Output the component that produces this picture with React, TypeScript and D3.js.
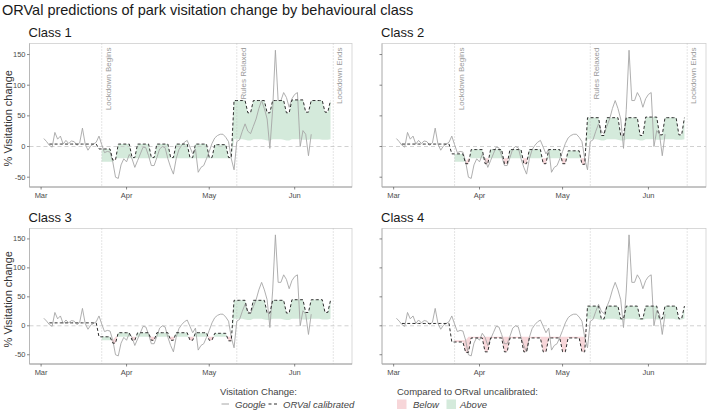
import React from 'react';
import * as d3 from 'd3';

// ---------- data ----------
const titleText = 'ORVal predictions of park visitation change by behavioural class';
const classNames = ['Class 1', 'Class 2', 'Class 3', 'Class 4'];
const monthTicks = ['2020-03-01', '2020-04-01', '2020-05-01', '2020-06-01'];
const monthLabels = ['Mar', 'Apr', 'May', 'Jun'];
const yTicks = [-50, 0, 50, 100, 150];
const eventDates = ['2020-03-23', '2020-05-11', '2020-06-15'];
const eventLabels = ['Lockdown Begins', 'Rules Relaxed', 'Lockdown Ends'];
const xDomainDates = ['2020-02-25T19:00:00Z', '2020-06-21T19:00:00Z'];
const yDomain = [-66, 168];

// Google mobility (daily, from 2 March)
const googleStart = '2020-03-02';
const googleValues = [
  13, 8, 2, -1, 23, 12, 17, 4, 10, 5, 9, 8, 2, 6, 30, 4, -6, 1, 4, 7, 17,
  3, -10, -8, -9, -25, -50, -52, -30, -20, -25, -13, -20, -34, -23, -12, -1,
  -2, -15, -31, -31, -18, -4, 0, -2, -20, -34, -45, -20, -5, 2, 7, 10, -1,
  -12, -4, -42, -34, -31, -20, -8, 5, 14, 18, 20, 20, 15, 8, -20, -38, 8,
  11, 25, 37, 25, 21, 33, 45, 62, 75, 62, 45, -3, 60, 157, 75, 75, 88, 80,
  64, 78, 85, 88, 0, 26, 20, -15, 20,
];

// ORVal calibrated (daily, from 4 March)
const calibratedStart = '2020-03-04';
const class1Calibrated = [
  4, 4, 4, 4, 4, 4, 4, 4, 4, 4, 4, 4, 4, 4, 4, 4, 4, 4,
  -4, -4, -4, -4, -4, -22, -22,
  4, 4, 4, 4, 4, -18, -18,
  4, 4, 4, 4, 4, -18, -18,
  4, 4, 4, 4, 4, -18, -18,
  4, 4, 4, 4, 4, -18, -18,
  4, 4, 4, 4, 4, -18, -18,
  3, 3, 3, 3, 3, -18, -18,
  75, 75, 75, 75, 75, 55, 55,
  75, 75, 75, 75, 75, 55, 55,
  75, 75, 75, 75, 75, 55, 55,
  76, 76, 76, 76, 76, 56, 56,
  75, 75, 75, 75, 75, 56, 56,
  75,
];
const class2Calibrated = [
  4, 4, 4, 4, 4, 4, 4, 4, 4, 4, 4, 4, 4, 4, 4, 4, 4, 4,
  -12, -12, -12, -12, -12, -28, -28,
  -5, -5, -5, -5, -5, -28, -28,
  -5, -5, -5, -5, -5, -28, -28,
  -5, -5, -5, -5, -5, -28, -28,
  -5, -5, -5, -5, -5, -28, -28,
  -5, -5, -5, -5, -5, -28, -28,
  -7, -7, -7, -7, -7, -29, -29,
  47, 47, 47, 47, 47, 18, 18,
  47, 47, 47, 47, 47, 18, 18,
  47, 47, 47, 47, 47, 18, 18,
  48, 48, 48, 48, 48, 19, 19,
  47, 47, 47, 47, 47, 19, 19,
  47,
];
const class3Calibrated = [
  5, 5, 5, 5, 5, 5, 5, 5, 5, 5, 5, 5, 5, 5, 5, 5, 5, 5,
  -19, -19, -19, -19, -19, -30, -30,
  -12, -12, -12, -12, -12, -25, -25,
  -12, -12, -12, -12, -12, -25, -25,
  -12, -12, -12, -12, -12, -25, -25,
  -12, -12, -12, -12, -12, -25, -25,
  -12, -12, -12, -12, -12, -25, -25,
  -13, -13, -13, -13, -13, -26, -26,
  44, 44, 44, 44, 44, 22, 22,
  44, 44, 44, 44, 44, 22, 22,
  44, 44, 44, 44, 44, 22, 22,
  45, 45, 45, 45, 45, 23, 23,
  45, 45, 45, 45, 45, 23, 23,
  44,
];
const class4Calibrated = [
  4, 4, 4, 4, 4, 4, 4, 4, 4, 4, 4, 4, 4, 4, 4, 4, 4, 4,
  -28, -28, -28, -28, -28, -46, -46,
  -21, -21, -21, -21, -21, -45, -45,
  -21, -21, -21, -21, -21, -45, -45,
  -21, -21, -21, -21, -21, -45, -45,
  -21, -21, -21, -21, -21, -45, -45,
  -21, -21, -21, -21, -21, -45, -45,
  -21, -21, -21, -21, -21, -45, -45,
  34, 34, 34, 34, 34, 12, 12,
  34, 34, 34, 34, 34, 12, 12,
  34, 34, 34, 34, 34, 12, 12,
  34, 34, 34, 34, 34, 12, 12,
  34, 34, 34, 34, 34, 12, 12,
  34,
];

// ORVal uncalibrated (daily, from 23 March)
const uncalibratedStart = '2020-03-23';
const uncalibratedValues = [
  -25, -25, -25, -25, -25,
  -19, -19, -19, -19, -19, -19, -19, -19, -19, -19, -19,
  -19, -19, -19, -19, -19, -19, -19, -19, -19, -19, -19,
  -19, -19, -19, -19, -19, -19, -19, -19, -19, -19, -19,
  -19, -19, -19, -19, -19, -19, -19, -19, -19, -19,
  12, 12, 12, 12, 11, 10, 10,
  12, 12, 12, 12, 11, 10, 10,
  12, 12, 12, 12, 11, 10, 10,
  12, 12, 12, 12, 11, 11, 11,
  12, 12, 12, 12, 11, 11, 11,
  12,
];

const calibratedSeries = [class1Calibrated, class2Calibrated, class3Calibrated, class4Calibrated];

// ---------- helpers ----------
const parseDay = d3.utcParse('%Y-%m-%d');
const toSeries = (start: string, vals: number[]) => {
  const s = parseDay(start) as Date;
  return vals.map((v, i) => ({ date: d3.utcDay.offset(s, i), value: v }));
};

const googleSeries = toSeries(googleStart, googleValues);
const uncalSeries = toSeries(uncalibratedStart, uncalibratedValues);

type RP = { t: number; c: number; u: number };
function ribbonPoints(cal: { date: Date; value: number }[]): RP[] {
  const byTime = new Map(cal.map((d) => [d.date.getTime(), d.value]));
  const base = uncalSeries
    .filter((d) => byTime.has(d.date.getTime()))
    .map((d) => ({ t: d.date.getTime(), c: byTime.get(d.date.getTime()) as number, u: d.value }));
  const out: RP[] = [];
  for (let i = 0; i < base.length; i++) {
    out.push(base[i]);
    if (i < base.length - 1) {
      const a = base[i], b = base[i + 1];
      const d0 = a.c - a.u, d1 = b.c - b.u;
      if (d0 * d1 < 0) {
        const f = d0 / (d0 - d1);
        const u = a.u + f * (b.u - a.u);
        out.push({ t: a.t + f * (b.t - a.t), c: u, u });
      }
    }
  }
  return out;
}

const FONT = '"Liberation Sans", Arial, Helvetica, sans-serif';

const panels = [
  { x0: 29.5, x1: 352, y0: 43.5, y1: 187, showY: true, labelY: 36.5 },
  { x0: 382, x1: 706, y0: 43.5, y1: 187, showY: false, labelY: 36.5 },
  { x0: 29.5, x1: 352, y0: 228.5, y1: 364, showY: true, labelY: 221.5 },
  { x0: 382, x1: 706, y0: 228.5, y1: 364, showY: false, labelY: 221.5 },
];

function Panel({ idx }: { idx: number }) {
  const p = panels[idx];
  const x = d3
    .scaleUtc()
    .domain(xDomainDates.map((s) => new Date(s)))
    .range([p.x0, p.x1]);
  const y = d3.scaleLinear().domain(yDomain).range([p.y1, p.y0]);
  const cal = toSeries(calibratedStart, calibratedSeries[idx]);
  const rp = ribbonPoints(cal);

  const greenArea = d3
    .area<RP>()
    .x((d) => x(new Date(d.t)))
    .y0((d) => y(d.u))
    .y1((d) => y(Math.max(d.c, d.u)));
  const pinkArea = d3
    .area<RP>()
    .x((d) => x(new Date(d.t)))
    .y0((d) => y(Math.min(d.c, d.u)))
    .y1((d) => y(d.u));
  const line = d3
    .line<{ date: Date; value: number }>()
    .x((d) => x(d.date))
    .y((d) => y(d.value));

  return (
    <g>
      <text x={p.x0 - 1} y={p.labelY} fontSize={13} fill="#1a1a1a" fontFamily={FONT}>
        {classNames[idx]}
      </text>
      <rect x={p.x0} y={p.y0} width={p.x1 - p.x0} height={p.y1 - p.y0} fill="#fff" stroke="#cfcfcf" strokeWidth={0.8} />
      <path d={greenArea(rp) || ''} fill="#d4eadb" />
      <path d={pinkArea(rp) || ''} fill="#f7d6d9" />
      <line x1={p.x0} x2={p.x1} y1={y(0)} y2={y(0)} stroke="#c4c4c4" strokeWidth={0.8} strokeDasharray="4,3" />
      {eventDates.map((e, i) => {
        const ex = x(parseDay(e) as Date);
        return (
          <g key={e}>
            <line x1={ex} x2={ex} y1={p.y0} y2={p.y1} stroke="#bdbdbd" strokeWidth={0.8} strokeDasharray="1,2" />
            {idx < 2 && (
              <text
                transform={`translate(${ex + 9},${p.y0 + 4}) rotate(-90)`}
                textAnchor="end"
                fontSize={8}
                fill="#9a9a9a"
                fontFamily={FONT}
              >
                {eventLabels[i]}
              </text>
            )}
          </g>
        );
      })}
      <path d={line(googleSeries) || ''} fill="none" stroke="#a6a6a6" strokeWidth={0.9} />
      <path d={line(cal) || ''} fill="none" stroke="#2e2e2e" strokeWidth={1} strokeDasharray="3,2.2" />
      {/* axes */}
      <line x1={p.x0} x2={p.x1} y1={p.y1} y2={p.y1} stroke="#8a8a8a" strokeWidth={0.8} />
      <line x1={p.x0} x2={p.x0} y1={p.y0} y2={p.y1} stroke="#b0b0b0" strokeWidth={0.8} />
      {yTicks.map((t) => (
        <g key={t}>
          <line x1={p.x0 - 2.5} x2={p.x0} y1={y(t)} y2={y(t)} stroke="#555" strokeWidth={0.7} />
          {p.showY && (
            <text x={p.x0 - 4} y={y(t)} dy="0.32em" textAnchor="end" fontSize={7.5} fill="#4d4d4d" fontFamily={FONT}>
              {t}
            </text>
          )}
        </g>
      ))}
      {monthTicks.map((m, i) => {
        const mx = x(parseDay(m) as Date);
        return (
          <g key={m}>
            <line x1={mx} x2={mx} y1={p.y1} y2={p.y1 + 2.5} stroke="#555" strokeWidth={0.7} />
            <text x={mx} y={p.y1 + 10.5} textAnchor="middle" fontSize={7.5} fill="#4d4d4d" fontFamily={FONT}>
              {monthLabels[i]}
            </text>
          </g>
        );
      })}
      {p.showY && (
        <text
          transform={`translate(11.5,${(p.y0 + p.y1) / 2 + 3}) rotate(-90)`}
          textAnchor="middle"
          fontSize={11}
          fill="#333"
          fontFamily={FONT}
        >
          % Visitation change
        </text>
      )}
    </g>
  );
}

export default function App() {
  return (
    <svg
      width={709}
      height={418}
      viewBox="0 0 709 418"
      style={{ position: 'absolute', left: 0, top: 0, background: '#fff' }}
    >
      <rect x={0} y={0} width={709} height={418} fill="#fff" />
      <text x={2} y={15} fontSize={14.5} fill="#1a1a1a" fontFamily={FONT}>
        {titleText}
      </text>
      {panels.map((_, i) => (
        <Panel key={i} idx={i} />
      ))}
      {/* legend */}
      <g fontFamily={FONT} fontSize={9.5} fill="#444">
        <text x={220} y={394.5}>Visitation Change:</text>
        <line x1={221.5} x2={229} y1={404} y2={404} stroke="#a6a6a6" strokeWidth={1} />
        <text x={235} y={407.5} fontStyle="italic">Google</text>
        <line x1={268.5} x2={278} y1={404} y2={404} stroke="#2e2e2e" strokeWidth={1} strokeDasharray="3,2.5" />
        <text x={283} y={407.5} fontStyle="italic">ORVal calibrated</text>
        <text x={397} y={394.5}>Compared to ORval uncalibrated:</text>
        <rect x={397} y={399.5} width={9.5} height={9.5} fill="#f7d6d9" />
        <text x={413} y={407.5} fontStyle="italic">Below</text>
        <rect x={446.5} y={399.5} width={9.5} height={9.5} fill="#d4eadb" />
        <text x={460} y={407.5} fontStyle="italic">Above</text>
      </g>
    </svg>
  );
}
